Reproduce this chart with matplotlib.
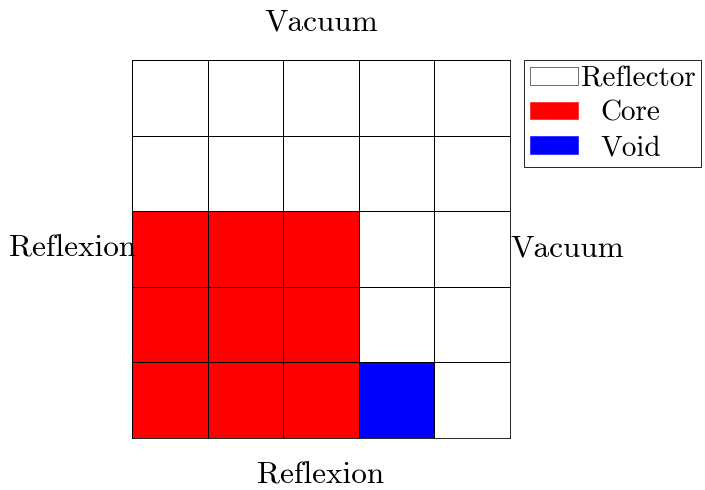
import matplotlib
matplotlib.use("Agg")
import matplotlib.pyplot as plt
import numpy as np
from matplotlib.colors import ListedColormap
from matplotlib.patches import Patch

plt.rcParams['font.family'] = 'cmr10'
plt.rcParams['mathtext.fontset'] = 'cm'
plt.rcParams['axes.unicode_minus'] = False

# Materiaux: 0 = Reflector, 1 = Core, 2 = Void (lignes du bas vers le haut)
materials = ['Reflector', 'Core', 'Void']
colors = ['white', 'red', 'blue']
grid = np.array([
    [1, 1, 1, 2, 0],
    [1, 1, 1, 0, 0],
    [1, 1, 1, 0, 0],
    [0, 0, 0, 0, 0],
    [0, 0, 0, 0, 0],
])
bc_top = 'Vacuum'
bc_bottom = 'Reflexion'
bc_left = 'Reflexion'
bc_right = 'Vacuum'

fig = plt.figure(figsize=(7.05, 4.9), dpi=100)
ax = fig.add_axes([132 / 705, 1 - 438 / 490, 378 / 705, 378 / 490])

ax.pcolormesh(np.arange(6), np.arange(6), grid, cmap=ListedColormap(colors),
              vmin=-0.5, vmax=2.5, edgecolors='black', linewidth=0.6)
ax.set_xlim(0, 5)
ax.set_ylim(0, 5)
ax.set_xticks([])
ax.set_yticks([])
for s in ax.spines.values():
    s.set_linewidth(0.6)

fs = 22.5
ax.text(0.5, 1.1, bc_top, transform=ax.transAxes, ha='center', va='center', fontsize=fs)
ax.text(0.5, -0.1, bc_bottom, transform=ax.transAxes, ha='center', va='center', fontsize=fs)
ax.text(0.01, 0.5, bc_left, transform=ax.transAxes, ha='right', va='center', fontsize=fs)
ax.text(1.0, 0.5, bc_right, transform=ax.transAxes, ha='left', va='center', fontsize=fs)

handles = [Patch(facecolor=c, edgecolor='black' if c == 'white' else c, linewidth=0.4)
           for c in colors]
leg = ax.legend(handles, materials, loc='upper left', bbox_to_anchor=(1 + 14 / 378, 1.0),
                borderaxespad=0, fontsize=21, fancybox=False, framealpha=1,
                edgecolor='black', handlelength=1.65, handleheight=0.55,
                handletextpad=0.1, labelspacing=0.28, borderpad=0.2)
leg.get_frame().set_linewidth(0.6)

# centrer les libelles dans la colonne de texte
widths = [t.get_window_extent(fig.canvas.get_renderer()).width for t in leg.get_texts()]
wmax = max(widths)
for t, w in zip(leg.get_texts(), widths):
    t.set_position(((wmax - w) / 2 * 72 / fig.dpi, 0))

fig.savefig('out.png', dpi=100)
